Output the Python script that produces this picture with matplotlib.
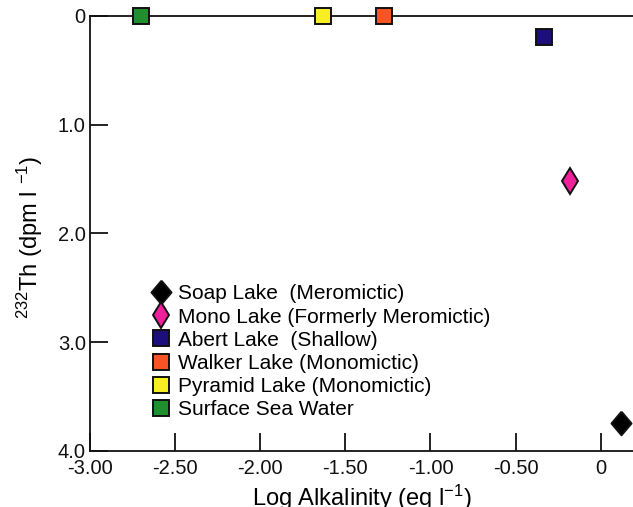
import matplotlib.pyplot as plt
from matplotlib.path import Path

plt.rcParams['font.family'] = ['Liberation Sans', 'DejaVu Sans']
plt.rcParams['mathtext.fontset'] = 'custom'
plt.rcParams['mathtext.rm'] = 'Liberation Sans'
plt.rcParams['mathtext.default'] = 'regular'

# log alkalinity (eq/l) and 232Th (dpm/l) for each lake
lakes = ['Soap Lake  (Meromictic)', 'Mono Lake (Formerly Meromictic)',
         'Abert Lake  (Shallow)', 'Walker Lake (Monomictic)',
         'Pyramid Lake (Monomictic)', 'Surface Sea Water']
alkalinity = [0.12, -0.18, -0.33, -1.27, -1.63, -2.70]
thorium = [3.74, 1.52, 0.19, 0.0, 0.0, 0.0]
colors = ['#000000', '#f0209a', '#1c0f7c', '#f75426', '#f8ef22', '#1f8f30']

xticks = [-3.0, -2.5, -2.0, -1.5, -1.0, -0.5, 0.0]
xticklabels = ['-3.00', '-2.50', '-2.00', '-1.50', '-1.00', '-0.50', '0']
yticks = [0, 1, 2, 3, 4]
yticklabels = ['0', '1.0', '2.0', '3.0', '4.0']

# slightly narrow diamond for Soap Lake, thin diamond for Mono Lake
fat_diamond = Path([(0, 1), (0.85, 0), (0, -1), (-0.85, 0), (0, 1)])
markers = [fat_diamond, 'd', 's', 's', 's', 's']
sizes = [17, 13, 11.5, 11.5, 11.5, 11.5]

fig = plt.figure(figsize=(6.33, 5.07), dpi=100)
ax = fig.add_axes([90/633, 1 - 451/507, 1 - 90/633, 435/507])

for name, x, y, c, m, s in zip(lakes, alkalinity, thorium, colors, markers, sizes):
    ax.plot(x, y, linestyle='none', marker=m, markersize=s, markerfacecolor=c,
            markeredgecolor='#111111', markeredgewidth=1.4, label=name,
            clip_on=False, zorder=5)

ax.set_xlim(-3.0, 0.19)
ax.set_ylim(4.0, 0.0)
ax.set_xticks(xticks)
ax.set_xticklabels(xticklabels)
ax.set_yticks(yticks)
ax.set_yticklabels(yticklabels)
ax.tick_params(direction='in', length=13, width=1.3, labelsize=14.5, colors='#111111')
ax.tick_params(axis='x', pad=6)
ax.tick_params(axis='y', pad=3)

ax.spines['right'].set_visible(False)
for side in ['top', 'bottom', 'left']:
    ax.spines[side].set_linewidth(1.3)
    ax.spines[side].set_color('#111111')

ax.set_xlabel('Log Alkalinity (eq l$^{-1}$)', fontsize=17, labelpad=3)
fig.text(30/633, 1 - 237/507, '$^{232}$Th (dpm l $^{-1}$)', rotation=90,
         fontsize=17, ha='center', va='center')

ax.legend(loc='upper left', bbox_to_anchor=(0.088, 0.407), frameon=False,
          fontsize=15, labelspacing=0.2, handletextpad=0.25,
          handlelength=1.2, borderpad=0, markerscale=1.0)

fig.savefig('out.png', dpi=100)
